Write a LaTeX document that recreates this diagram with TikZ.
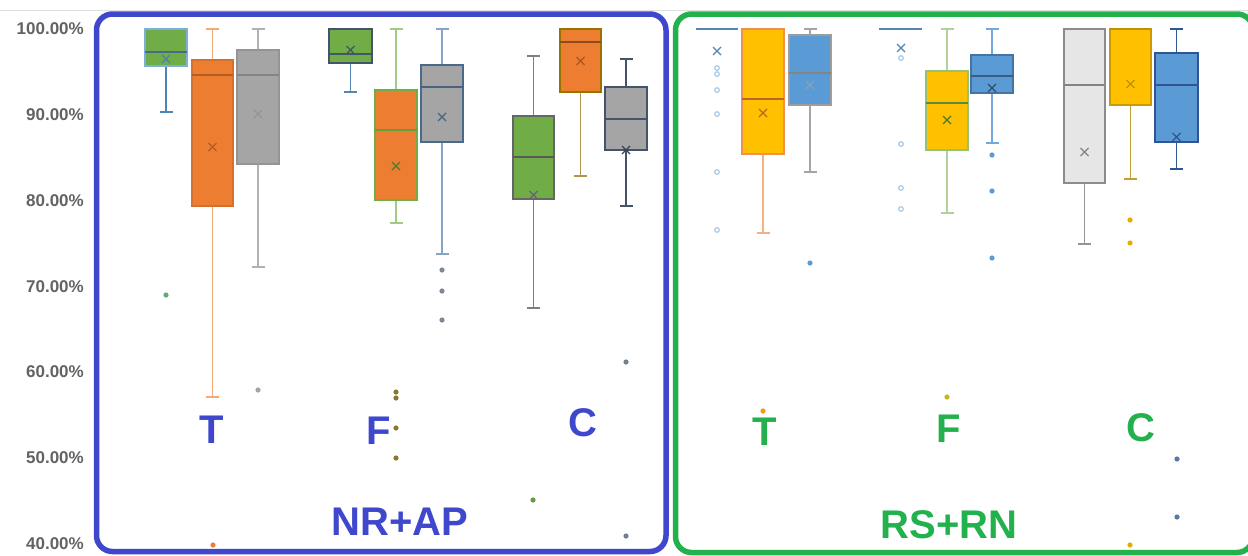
\documentclass[tikz,border=0pt]{standalone}
\usepackage{fontspec}
\setmainfont{Liberation Sans}
\definecolor{frameblue}{RGB}{63,72,204}
\definecolor{framegreen}{RGB}{34,177,76}
\definecolor{cgreen}{HTML}{70AD47}
\definecolor{corange}{HTML}{ED7D31}
\definecolor{cgray}{HTML}{A5A5A5}
\definecolor{cyellow}{HTML}{FFC000}
\definecolor{cblue}{HTML}{5B9BD5}
\definecolor{clight}{HTML}{E7E6E6}
\definecolor{axisgray}{HTML}{636363}
\definecolor{slate}{HTML}{44546A}
\definecolor{dkblue}{HTML}{2F5597}
\newcommand\setc[5]{\colorlet{bF}{#1}\colorlet{bB}{#2}\colorlet{bW}{#3}\colorlet{bM}{#4}\colorlet{bX}{#5}}
% #1 xl, #2 xr, #3 box top, #4 box bottom, #5 median, #6 mean, #7 whisker top, #8 whisker bottom
\newcommand\boxp[8]{%
  \pgfmathsetmacro\xc{(#1+#2)/2}
  \draw[whisk] (\xc,#7) -- (\xc,#3) (\xc,#4) -- (\xc,#8);
  \draw[whisk] (\xc-6.5,#7) -- (\xc+6.5,#7) (\xc-6.5,#8) -- (\xc+6.5,#8);
  \draw[bxs] (#1,#3) rectangle (#2,#4);
  \draw[medl] (#1,#5) -- (#2,#5);
  \draw[meanx] (\xc-4,#6-4) -- (\xc+4,#6+4) (\xc-4,#6+4) -- (\xc+4,#6-4);
}
\tikzset{
  whisk/.style={draw=bW, line width=1.1},
  bxs/.style={fill=bF, draw=bB, line width=1.6},
  medl/.style={draw=bM, line width=1.4},
  meanx/.style={draw=bX, line width=1.1},
  frame/.style={line width=5.5, rounded corners=16},
  axl/.style={anchor=east, inner sep=0, text=axisgray, font=\fontsize{17}{19}\selectfont\bfseries},
  biglab/.style={inner sep=0, font=\fontsize{40}{44}\selectfont\bfseries},
}
\newcommand\outl[3]{\fill[#1] (#2,#3) circle (2.6);}
\newcommand\hout[2]{\draw[color=cblue!70!white, line width=0.9] (#1,#2) circle (2.3);}
\begin{document}
\begin{tikzpicture}[x=1pt,y=-1pt]
\useasboundingbox (0,0) rectangle (1248,555);
\fill[white] (0,0) rectangle (1248,555);
\draw[gray!25, line width=0.8] (0,10) -- (1248,10);
% axis labels
\node[axl] (y100) at (84,29) {100.00\%};
\node[axl] (y90) at (84,115) {90.00\%};
\node[axl] (y80) at (84,201) {80.00\%};
\node[axl] (y70) at (84,287) {70.00\%};
\node[axl] (y60) at (84,372) {60.00\%};
\node[axl] (y50) at (84,458) {50.00\%};
\node[axl] (y40) at (84,544) {40.00\%};
% ---------- NR+AP ----------
\setc{cgreen}{cblue!80!white}{cblue!85!black}{slate!70!cblue}{cblue!60!slate}
\boxp{145}{187}{29}{66}{52}{59}{29}{112}
\outl{cgreen!70!cblue}{166}{295}
\setc{corange}{corange!90!black}{corange!65!white}{corange!75!black}{corange!75!black}
\boxp{192}{233}{60}{206}{75}{147}{29}{397}
\outl{corange}{213}{545}
\setc{cgray}{cgray!90!black}{cgray!85!white}{cgray!80!black}{cgray!90!black}
\boxp{237}{279}{50}{164}{75}{114}{29}{267}
\outl{cgray}{258}{390}
\setc{cgreen}{slate}{cblue!70!slate}{slate}{slate}
\boxp{329}{372}{29}{63}{54}{50}{29}{92}
\setc{corange}{cgreen}{cgreen!65!white}{cgreen!90!black}{cgreen!70!black}
\boxp{375}{417}{90}{200}{130}{166}{29}{223}
\outl{cgreen!50!corange!80!black}{396}{392}
\outl{cgreen!50!corange!80!black}{396}{398}
\outl{cgreen!50!corange!80!black}{396}{428}
\outl{cgreen!50!corange!80!black}{396}{458}
\setc{cgray}{slate!70!cblue}{slate!40!cblue!70!white}{slate!80!cblue}{slate!80!cblue}
\boxp{421}{463}{65}{142}{87}{117}{29}{254}
\outl{slate!70!white}{442}{270}
\outl{slate!70!white}{442}{291}
\outl{slate!70!white}{442}{320}
\setc{cgreen}{black!60}{black!50}{black!65}{black!60}
\boxp{513}{554}{116}{199}{157}{195}{56}{308}
\outl{cgreen!90!black}{533}{500}
\setc{corange}{cyellow!60!black}{cyellow!55!black!70!white}{corange!60!black}{corange!70!black}
\boxp{560}{601}{29}{92}{42}{61}{29}{176}
\setc{cgray}{slate}{slate}{slate}{slate!80!black}
\boxp{605}{647}{87}{150}{119}{150}{59}{206}
\outl{slate!75!white}{626}{362}
\outl{slate!75!white}{626}{536}
% ---------- RS+RN ----------
\draw[cblue!70!slate, line width=1.3] (696,29) -- (738,29);
\draw[cblue!70!slate, line width=1.1] (713,47) -- (721,55) (713,55) -- (721,47);
\hout{717}{68}\hout{717}{74}\hout{717}{90}\hout{717}{114}\hout{717}{172}\hout{717}{230}
\setc{cyellow}{corange!85!white}{corange!60!white}{corange!80!black}{corange!80!black}
\boxp{742}{784}{29}{154}{99}{113}{29}{233}
\outl{corange!60!cyellow}{763}{411}
\setc{cblue}{cgray!95!black}{cgray}{cgray!80!black}{cgray!60!cblue}
\boxp{789}{831}{35}{105}{73}{85}{29}{172}
\outl{cblue}{810}{263}
\draw[cblue!70!slate, line width=1.3] (879,29) -- (922,29);
\draw[cblue!70!slate, line width=1.1] (897,44) -- (905,52) (897,52) -- (905,44);
\hout{901}{58}\hout{901}{144}\hout{901}{188}\hout{901}{209}
\setc{cyellow}{cgreen!75!white}{cgreen!55!white}{cgreen!80!black}{cgreen!70!black}
\boxp{926}{968}{71}{150}{103}{120}{29}{213}
\outl{cyellow!60!cgreen}{947}{397}
\setc{cblue}{cblue!75!black}{cblue!85!white}{cblue!60!black}{cblue!50!black}
\boxp{971}{1013}{55}{93}{76}{88}{29}{143}
\outl{cblue}{992}{155}
\outl{cblue}{992}{191}
\outl{cblue}{992}{258}
\setc{clight}{cgray!85!black}{cgray!90!black}{cgray!80!black}{cgray!80!black}
\boxp{1064}{1105}{29}{183}{85}{152}{29}{244}
\setc{cyellow}{cyellow!80!black}{cyellow!70!black!80!white}{cyellow!75!black}{cyellow!75!black}
\boxp{1110}{1151}{29}{105}{29}{84}{29}{179}
\outl{cyellow!90!black}{1130}{220}
\outl{cyellow!90!black}{1130}{243}
\outl{cyellow!90!black}{1130}{545}
\setc{cblue}{dkblue}{dkblue}{dkblue}{dkblue}
\boxp{1155}{1198}{53}{142}{85}{137}{29}{169}
\outl{dkblue!80!white}{1177}{459}
\outl{dkblue!80!white}{1177}{517}
% frames
\draw[frame, frameblue] (96.5,14) rectangle (666,551.5);
\draw[frame, framegreen] (675.5,14) rectangle (1253,552.5);
% labels
\node[biglab, text=frameblue] (t1) at (212,430) {T};
\node[biglab, text=frameblue] (f1) at (379,431) {F};
\node[biglab, text=frameblue] (c1) at (583,423) {C};
\node[biglab, text=frameblue] (g1) at (400,522) {NR+AP};
\node[biglab, text=framegreen] (t2) at (765,432) {T};
\node[biglab, text=framegreen] (f2) at (949,429) {F};
\node[biglab, text=framegreen] (c2) at (1141,428) {C};
\node[biglab, text=framegreen] (g2) at (949,525) {RS+RN};
\end{tikzpicture}
\end{document}
